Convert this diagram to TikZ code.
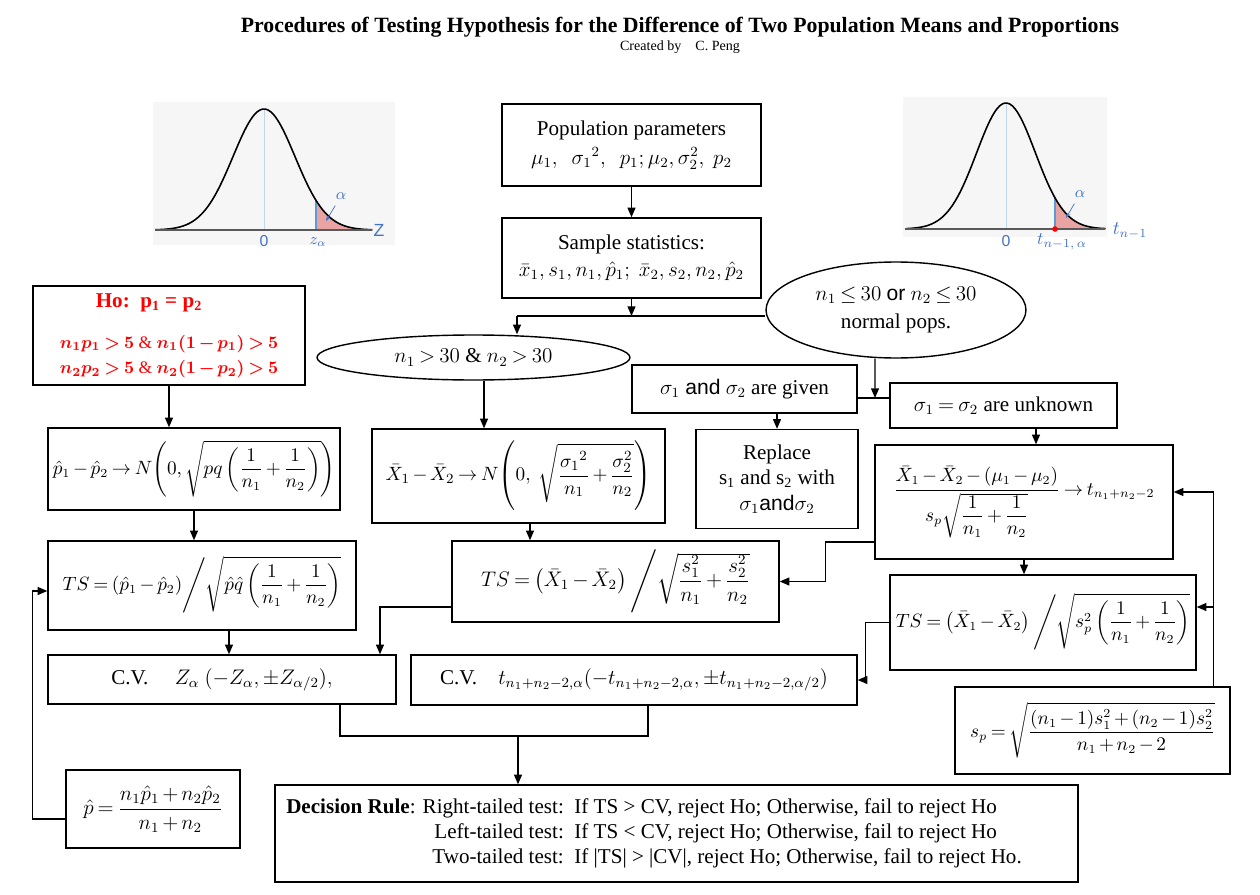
\documentclass[tikz,border=0pt]{standalone}
\usepackage{amsmath, amssymb}
\usepackage{fontspec}
\setmainfont{Liberation Serif}
\setsansfont{Liberation Sans}
\usepackage{xcolor}
\usetikzlibrary{arrows.meta, shapes.geometric, calc}

\definecolor{curveblue}{HTML}{4472C4}
\definecolor{lineblue}{HTML}{5B9BD5}
\definecolor{tailred}{HTML}{E9A3A3}
\definecolor{bggray}{HTML}{F6F6F6}
\medmuskip=2.5mu plus 1mu minus 1mu
\thickmuskip=3.5mu plus 2mu

\begin{document}
\begin{tikzpicture}[x=0.02cm, y=-0.02cm, >={Triangle[length=5.5pt,width=4.5pt]},
    every node/.style={font=\fontsize{12}{14.4}\selectfont},
    box/.style={draw, line width=0.8pt, align=center, inner sep=2pt},
    formula/.style={box, font=\fontsize{10.5}{12.6}\selectfont},
    oval/.style={draw, line width=0.8pt, ellipse, align=center, inner sep=1pt},
    arr/.style={->, line width=0.8pt},
    lnk/.style={line width=0.8pt},
    lbl/.style={text=curveblue, font=\sffamily\fontsize{9}{10}\selectfont}]
    \useasboundingbox (0,0) rectangle (1260,895);

    \node (title) at (680,27) {\fontsize{12.4}{14}\selectfont\bfseries Procedures of Testing Hypothesis for the Difference of Two Population Means and Proportions};
    \node (author) at (680,47) {\fontsize{8}{9}\selectfont Created by\quad C. Peng};

    % standard normal curve
    \fill[bggray] (153,102) rectangle (395,245);
    \fill[tailred] (316,230) -- plot[domain=1.677:3.5, samples=30] ({264+31*\x}, {230-121*exp(-0.5*(\x)*(\x))}) -- cycle;
    \draw[lineblue!40, line width=0.4pt] (264,230) -- (264,109);
    \draw[lineblue, line width=1.6pt] (316,230) -- (316,200);
    \draw[line width=0.9pt] plot[domain=-3.5:3.5, samples=80, smooth] ({264+31*\x}, {230-121*exp(-0.5*(\x)*(\x))});
    \draw[gray!70!black, line width=1pt] (155,230) -- (372,230);
    \node[lbl] (zero1) at (264,241) {0};
    \node[lbl] (zal) at (318,242) {$z_\alpha$};
    \node[lbl, font=\sffamily\fontsize{10}{11}\selectfont] (zname) at (379,230) {Z};
    \node[lbl] (alpha1) at (341,196) {$\alpha$};
    \draw[->, curveblue, >={Stealth[length=3pt]}] (alpha1) -- (326,221);

    % t curve
    \fill[bggray] (903,97) rectangle (1107,237);
    \fill[tailred] (1055,229) -- plot[domain=1.672:3.4, samples=30] ({1006+29.3*\x}, {229-126*exp(-0.5*(\x)*(\x))}) -- cycle;
    \draw[lineblue!40, line width=0.4pt] (1006,229) -- (1006,103);
    \draw[lineblue, line width=1.6pt] (1055,229) -- (1055,198);
    \draw[line width=0.9pt] plot[domain=-3.4:3.4, samples=80, smooth] ({1006+29.3*\x}, {229-126*exp(-0.5*(\x)*(\x))});
    \draw[gray!70!black, line width=1pt] (905,229) -- (1105,229);
    \fill[red] (1055,229) circle (1.6pt);
    \node[lbl] (zero2) at (1006,241) {0};
    \node[lbl, font=\fontsize{10}{11}\selectfont] (tal) at (1062,242) {$t_{n-1,\,\alpha}$};
    \node[lbl, font=\fontsize{10.5}{11}\selectfont] (tname) at (1130,231) {$t_{n-1}$};
    \node[lbl] (alpha2) at (1080,194) {$\alpha$};
    \draw[->, curveblue, >={Stealth[length=3pt]}] (alpha2) -- (1066,218);

    % boxes
    \node[box, minimum width=5.18cm, minimum height=1.64cm] (pop) at (631.5,145) {Population parameters\\[2pt] $\mu_1,\ \ \sigma_1{}^2,\ \ p_1;\mu_2,\sigma_2^2,\ p_2$};
    \node[box, minimum width=5.18cm, minimum height=1.6cm] (samp) at (631.5,258) {Sample statistics:\\[1pt] $\bar{x}_1,s_1,n_1,\hat{p}_1;\ \bar{x}_2,s_2,n_2,\hat{p}_2$};
    \node[oval, minimum width=5.2cm, minimum height=1.92cm] (small) at (896,310) {$n_1\le 30$ {\sffamily or} $n_2\le 30$\\[2pt] normal pops.};
    \node[oval, minimum width=6.26cm, minimum height=0.9cm] (large) at (473.5,357.5) {$n_1>30$ \& $n_2>30$};
    \node[box, minimum width=5.44cm, minimum height=1.98cm, text=red] (ho) at (169,335.5) {\textbf{Ho:\ \ p\textsubscript{1} = p\textsubscript{2}}\hspace*{0.8cm}\\[9pt] \fontsize{10}{12}\selectfont {\boldmath$n_1p_1>5$} \& {\boldmath$n_1(1-p_1)>5$}\\ \fontsize{10}{12}\selectfont {\boldmath$n_2p_2>5$} \& {\boldmath$n_2(1-p_2)>5$}};
    \node[formula, minimum width=5.84cm, minimum height=1.64cm] (normp) at (194,469) {$\hat p_1-\hat p_2\to N\!\left(0,\sqrt{pq\left(\dfrac{1}{n_1}+\dfrac{1}{n_2}\right)}\right)$};
    \node[formula, minimum width=6.16cm, minimum height=1.78cm] (tsp) at (202,585.5) {$TS=(\hat p_1-\hat p_2)\Bigg/\sqrt{\hat p\hat q\left(\dfrac{1}{n_1}+\dfrac{1}{n_2}\right)}$};
    \node[box, minimum width=6.96cm, minimum height=0.98cm] (cvz) at (222,679.5) {C.V.\quad\ $Z_\alpha\ (-Z_\alpha,\pm Z_{\alpha/2}),$};
    \node[box, minimum width=4.5cm, minimum height=0.96cm] (given) at (744.5,389) {$\sigma_1$ {\sffamily and} $\sigma_2$ are given};
    \node[box, minimum width=4.54cm, minimum height=0.9cm] (unknown) at (1003.5,405.5) {$\sigma_1=\sigma_2$ are unknown};
    \node[box, minimum width=3.24cm, minimum height=1.98cm] (repl) at (777,479) {Replace\\ s\textsubscript{1} and s\textsubscript{2} with\\ $\sigma_1${\sffamily and}$\sigma_2$};
    \node[formula, font=\fontsize{11}{13}\selectfont, minimum width=5.86cm, minimum height=1.88cm] (normx) at (518.5,476) {$\bar X_1-\bar X_2\to N\!\left(0,\ \sqrt{\dfrac{\sigma_1{}^2}{n_1}+\dfrac{\sigma_2^2}{n_2}}\right)$};
    \node[box, minimum width=6.54cm, minimum height=1.62cm] (tsx) at (615.5,581.5) {$TS=\left(\bar X_1-\bar X_2\right)\Bigg/\sqrt{\dfrac{s_1^2}{n_1}+\dfrac{s_2^2}{n_2}}$};
    \node[formula, minimum width=5.96cm, minimum height=2.28cm] (tdist) at (1024,502) {$\dfrac{\bar X_1-\bar X_2-(\mu_1-\mu_2)}{s_p\sqrt{\dfrac{1}{n_1}+\dfrac{1}{n_2}}}\to t_{n_1+n_2-2}$};
    \node[formula, minimum width=6.12cm, minimum height=1.9cm] (tsu) at (1043,622.5) {$TS=\left(\bar X_1-\bar X_2\right)\Bigg/\sqrt{s_p^2\left(\dfrac{1}{n_1}+\dfrac{1}{n_2}\right)}$};
    \node[formula, minimum width=5.5cm, minimum height=1.74cm] (sp) at (1092.5,730.5) {$s_p=\sqrt{\dfrac{(n_1-1)s_1^2+(n_2-1)s_2^2}{n_1+n_2-2}}$};
    \node[box, minimum width=8.92cm, minimum height=1cm] (cvt) at (634,680) {C.V.\quad $t_{n_1+n_2-2,\alpha}(-t_{n_1+n_2-2,\alpha},\pm t_{n_1+n_2-2,\alpha/2})$};
    \node[box, minimum width=16.06cm, minimum height=1.94cm] (dec) at (676.5,833.5) {\begin{tabular}{@{}r@{\ \ }l@{}}\textbf{Decision Rule}: Right-tailed test: & If TS > CV, reject Ho; Otherwise, fail to reject Ho\\ Left-tailed test: & If TS < CV, reject Ho; Otherwise, fail to reject Ho\\ Two-tailed test: & If |TS| > |CV|, reject Ho; Otherwise, fail to reject Ho.\end{tabular}\hspace*{0.9cm}};
    \node[box, minimum width=3.48cm, minimum height=1.56cm] (phat) at (153,809) {$\hat p=\dfrac{n_1\hat p_1+n_2\hat p_2}{n_1+n_2}$};

    % connectors
    \coordinate (jt) at (517,316);
    \coordinate (jr) at (875,398);
    \coordinate (jd) at (518,736);
    \draw[arr] (pop) -- (samp);
    \draw[arr] (samp.south) -- (samp.south |- jt);
    \draw[lnk] (small.west |- jt) -- (jt);
    \draw[arr] (jt) -- (jt |- large.north);
    \draw[arr] ([xshift=-0.69cm]normx.north |- large.south) -- ([xshift=-0.69cm]normx.north);
    \draw[arr] ([xshift=0.23cm]normx.south) -- ([xshift=0.23cm]normx.south |- tsx.north);
    \draw[arr] (ho.south) -- (ho.south |- normp.north);
    \draw[arr] (normp.south) -- (normp.south |- tsp.north);
    \draw[arr] ([xshift=0.54cm]tsp.south) -- ([xshift=0.54cm]tsp.south |- cvz.north);
    \draw[arr] ([yshift=-0.51cm]tsx.west) -| ([xshift=3.16cm]cvz.north);
    \draw[arr] ([xshift=-0.42cm]small.south) -- (jr);
    \draw[lnk] (given.east |- jr) -- (unknown.west |- jr);
    \draw[arr] (repl.north |- given.south) -- (repl.north);
    \draw[arr] ([xshift=0.24cm]tdist.north |- unknown.south) -- ([xshift=0.24cm]tdist.north);
    \draw[arr] ([yshift=-0.8cm]tdist.west) -- ++(-49,0) |- (tsx.east);
    \draw[arr] (tdist.south) -- (tdist.south |- tsu.north);
    \draw[arr] (tsu.west) -- ++(-24,0) |- (cvt.east);
    \coordinate (fb) at ([xshift=2.42cm]sp.north);
    \coordinate (tsin) at ([yshift=0.31cm]tsu.east);
    \draw[arr] (fb) |- ([yshift=0.2cm]tdist.east);
    \draw[arr] (fb |- tsin) -- (tsin);
    \draw[lnk] ([xshift=2.36cm]cvz.south) |- (jd) -| ([xshift=0.28cm]cvt.south);
    \draw[arr] (jd) -- (jd |- dec.north);
    \draw[arr] ([yshift=-0.2cm]phat.west) -- ++(-33,0) |- ([yshift=-0.11cm]tsp.west);
\end{tikzpicture}
\end{document}
